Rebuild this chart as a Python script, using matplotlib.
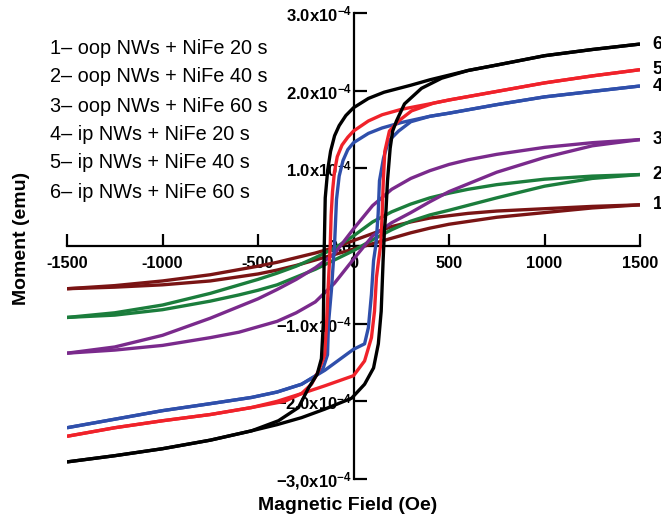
import matplotlib
matplotlib.use("Agg")
import matplotlib.pyplot as plt

plt.rcParams['font.family'] = ['Liberation Sans', 'DejaVu Sans']
plt.rcParams['mathtext.fontset'] = 'custom'
plt.rcParams['mathtext.rm'] = 'Liberation Sans'
plt.rcParams['mathtext.bf'] = 'Liberation Sans:bold'

SCALE = 1e-4  # moments below are in units of 1e-4 emu

# ---- curve 1 : oop NWs + NiFe 20 s (dark red)
h1_dn = [1500, 1250, 1000, 750, 600, 500, 400, 300, 200, 100, 0, -100, -200, -300, -400, -500, -750, -1000, -1250, -1500]
m1_dn = [0.53, 0.51, 0.48, 0.45, 0.42, 0.39, 0.36, 0.31, 0.25, 0.16, 0.07, -0.02, -0.09, -0.15, -0.21, -0.26, -0.37, -0.45, -0.51, -0.55]
h1_up = [-1500, -1250, -1000, -750, -500, -400, -300, -200, -100, 0, 100, 200, 300, 400, 500, 750, 1000, 1250, 1500]
m1_up = [-0.55, -0.53, -0.50, -0.45, -0.36, -0.31, -0.25, -0.18, -0.11, -0.04, 0.03, 0.10, 0.17, 0.23, 0.28, 0.37, 0.43, 0.49, 0.53]

# ---- curve 2 : oop NWs + NiFe 40 s (green)
h2_dn = [1500, 1250, 1000, 750, 600, 500, 400, 300, 200, 100, 0, -100, -200, -300, -400, -500, -750, -1000, -1250, -1500]
m2_dn = [0.92, 0.90, 0.86, 0.79, 0.73, 0.68, 0.62, 0.54, 0.44, 0.31, 0.13, -0.03, -0.15, -0.26, -0.35, -0.43, -0.61, -0.76, -0.86, -0.92]
h2_up = [-1500, -1250, -1000, -750, -600, -500, -400, -300, -200, -100, 0, 100, 200, 300, 400, 500, 750, 1000, 1250, 1500]
m2_up = [-0.92, -0.89, -0.82, -0.71, -0.63, -0.57, -0.50, -0.40, -0.30, -0.18, -0.06, 0.08, 0.21, 0.32, 0.40, 0.46, 0.62, 0.77, 0.87, 0.92]

# ---- curve 3 : oop NWs + NiFe 60 s (purple)
h3_dn = [1500, 1250, 1000, 750, 600, 500, 400, 300, 200, 100, 0, -100, -200, -300, -400, -500, -750, -1000, -1250, -1500]
m3_dn = [1.37, 1.33, 1.27, 1.18, 1.11, 1.05, 0.97, 0.87, 0.73, 0.52, 0.22, -0.10, -0.28, -0.43, -0.56, -0.68, -0.93, -1.15, -1.30, -1.38]
h3_up = [-1500, -1250, -1000, -750, -600, -500, -400, -300, -200, -100, 0, 100, 200, 300, 400, 500, 750, 1000, 1250, 1500]
m3_up = [-1.38, -1.34, -1.28, -1.18, -1.11, -1.04, -0.97, -0.86, -0.72, -0.48, -0.17, 0.13, 0.30, 0.43, 0.57, 0.70, 0.95, 1.14, 1.29, 1.37]

# ---- curve 4 : ip NWs + NiFe 20 s (blue)
h4_dn = [1500, 1250, 1000, 750, 500, 400, 251, 150, 78, 0, -30, -55, -75, -89, -99, -115, -131, -136, -160, -204, -272, -400, -534, -750, -1000, -1250, -1500]
m4_dn = [2.06, 1.99, 1.92, 1.82, 1.71, 1.67, 1.59, 1.52, 1.45, 1.33, 1.24, 1.10, 0.90, 0.60, 0.03, -0.55, -1.00, -1.40, -1.58, -1.68, -1.78, -1.88, -1.95, -2.03, -2.12, -2.23, -2.34]
h4_up = [-1500, -1250, -1000, -750, -534, -400, -272, -150, 0, 58, 78, 94, 105, 118, 129, 136, 157, 183, 236, 300, 400, 500, 750, 1000, 1250, 1500]
m4_up = [-2.34, -2.23, -2.12, -2.03, -1.95, -1.88, -1.78, -1.60, -1.33, -1.26, -1.05, -0.62, -0.19, 0.03, 0.41, 0.84, 1.13, 1.35, 1.48, 1.60, 1.67, 1.71, 1.82, 1.92, 1.99, 2.06]

# ---- curve 5 : ip NWs + NiFe 40 s (red)
h5_dn = [1500, 1250, 1000, 750, 500, 420, 251, 150, 78, 0, -30, -60, -85, -100, -110, -117, -122, -132, -141, -151, -183, -220, -272, -361, -534, -750, -1000, -1250, -1500]
m5_dn = [2.27, 2.19, 2.10, 1.99, 1.88, 1.84, 1.76, 1.69, 1.61, 1.48, 1.40, 1.30, 1.15, 0.95, 0.70, 0.40, 0.00, -0.50, -1.00, -1.40, -1.61, -1.78, -1.90, -2.00, -2.08, -2.17, -2.25, -2.34, -2.45]
h5_up = [-1500, -1250, -1000, -750, -534, -400, -272, -150, 0, 58, 94, 110, 120, 131, 143, 150, 156, 164, 188, 236, 304, 420, 500, 750, 1000, 1250, 1500]
m5_up = [-2.45, -2.34, -2.25, -2.17, -2.08, -2.00, -1.90, -1.80, -1.67, -1.48, -1.18, -0.84, -0.41, -0.19, 0.03, 0.41, 0.84, 1.22, 1.48, 1.61, 1.74, 1.84, 1.88, 1.99, 2.10, 2.19, 2.27]

# ---- curve 6 : ip NWs + NiFe 60 s (black)
h6_dn = [1500, 1250, 1000, 750, 600, 500, 400, 300, 160, 78, 0, -40, -75, -99, -120, -135, -148, -153, -158, -168, -190, -236, -288, -393, -534, -750, -1000, -1250, -1500]
m6_dn = [2.60, 2.53, 2.45, 2.33, 2.26, 2.20, 2.14, 2.07, 1.98, 1.90, 1.78, 1.68, 1.55, 1.42, 1.22, 0.98, 0.62, 0.00, -1.00, -1.45, -1.65, -1.83, -2.08, -2.25, -2.38, -2.50, -2.61, -2.70, -2.78]
h6_up = [-1500, -1250, -1000, -750, -534, -400, -272, -150, -10, 58, 105, 130, 145, 155, 162, 170, 178, 192, 205, 225, 267, 356, 461, 600, 750, 1000, 1250, 1500]
m6_up = [-2.78, -2.70, -2.61, -2.50, -2.38, -2.30, -2.21, -2.10, -1.96, -1.78, -1.57, -1.26, -0.84, -0.19, 0.20, 0.45, 0.84, 1.26, 1.48, 1.61, 1.83, 2.03, 2.16, 2.26, 2.33, 2.45, 2.53, 2.60]

curve_names = ["1", "2", "3", "4", "5", "6"]
legend_lines = ["1\u2013 oop NWs + NiFe 20 s", "2\u2013 oop NWs + NiFe 40 s", "3\u2013 oop NWs + NiFe 60 s",
                "4\u2013 ip NWs + NiFe 20 s", "5\u2013 ip NWs + NiFe 40 s", "6\u2013 ip NWs + NiFe 60 s"]
colors = ["#7a1414", "#1b7d3c", "#7a2a8c", "#2f4fab", "#f0222a", "#000000"]

x_ticks = [-1500, -1000, -500, 0, 500, 1000, 1500]
x_ticklabels = ["-1500", "-1000", "-500", "0", "500", "1000", "1500"]
y_ticks = [-3, -2, -1, 0, 1, 2, 3]
y_ticklabels = [r"$\mathbf{-3{,}0x10^{-4}}$", r"$\mathbf{-2.0x10^{-4}}$", r"$\mathbf{-1.0x10^{-4}}$", r"$\mathbf{0.0}$",
                r"$\mathbf{1.0x10^{-4}}$", r"$\mathbf{2.0x10^{-4}}$", r"$\mathbf{3.0x10^{-4}}$"]

branches = [(h1_dn, m1_dn, h1_up, m1_up), (h2_dn, m2_dn, h2_up, m2_up), (h3_dn, m3_dn, h3_up, m3_up),
            (h4_dn, m4_dn, h4_up, m4_up), (h5_dn, m5_dn, h5_up, m5_up), (h6_dn, m6_dn, h6_up, m6_up)]

W, H = 661, 519
fig = plt.figure(figsize=(W / 100, H / 100), dpi=100)
ax = fig.add_axes([67 / W, 1 - 479 / H, (640 - 67) / W, (479 - 13) / H])

for (hd, md, hu, mu), c, name in zip(branches, colors, curve_names):
    ax.plot(hd, [v * SCALE for v in md], color=c, lw=2.4, solid_capstyle='butt', solid_joinstyle='round')
    ax.plot(hu, [v * SCALE for v in mu], color=c, lw=2.4, solid_capstyle='butt', solid_joinstyle='round')
    ax.annotate(name, xy=(hu[-1], mu[-1] * SCALE), xytext=(9, 0), textcoords='offset points',
                ha='left', va='center', fontsize=13, fontweight='bold', annotation_clip=False)

ax.set_xlim(-1500, 1500)
ax.set_ylim(-3 * SCALE, 3 * SCALE)

for s in ['top', 'right']:
    ax.spines[s].set_visible(False)
ax.spines['left'].set_position(('data', 0))
ax.spines['bottom'].set_position(('data', 0))
for s in ['left', 'bottom']:
    ax.spines[s].set_linewidth(1.6)
    ax.spines[s].set_zorder(0.5)

ax.set_xticks(x_ticks)
ax.set_xticklabels(x_ticklabels, fontsize=11.8, fontweight='bold')
ax.set_yticks([v * SCALE for v in y_ticks])
ax.set_yticklabels(y_ticklabels, fontsize=12)
ax.tick_params(axis='x', direction='in', length=9, width=1.6, pad=7)
ax.tick_params(axis='y', direction='in', length=9, width=1.6, pad=1)

fig.text(22 / W, 1 - 238 / H, "Moment (emu)", rotation=90, ha='center', va='center',
         fontsize=14, fontweight='bold')
fig.text(348 / W, 1 - 505 / H, "Magnetic Field (Oe)", ha='center', va='center',
         fontsize=14, fontweight='bold')

legend_y = [48, 77, 106, 135, 163, 192]
for txt, yy in zip(legend_lines, legend_y):
    fig.text(50 / W, 1 - yy / H, txt, ha='left', va='center', fontsize=14.3)

fig.savefig("out.png", dpi=100)
